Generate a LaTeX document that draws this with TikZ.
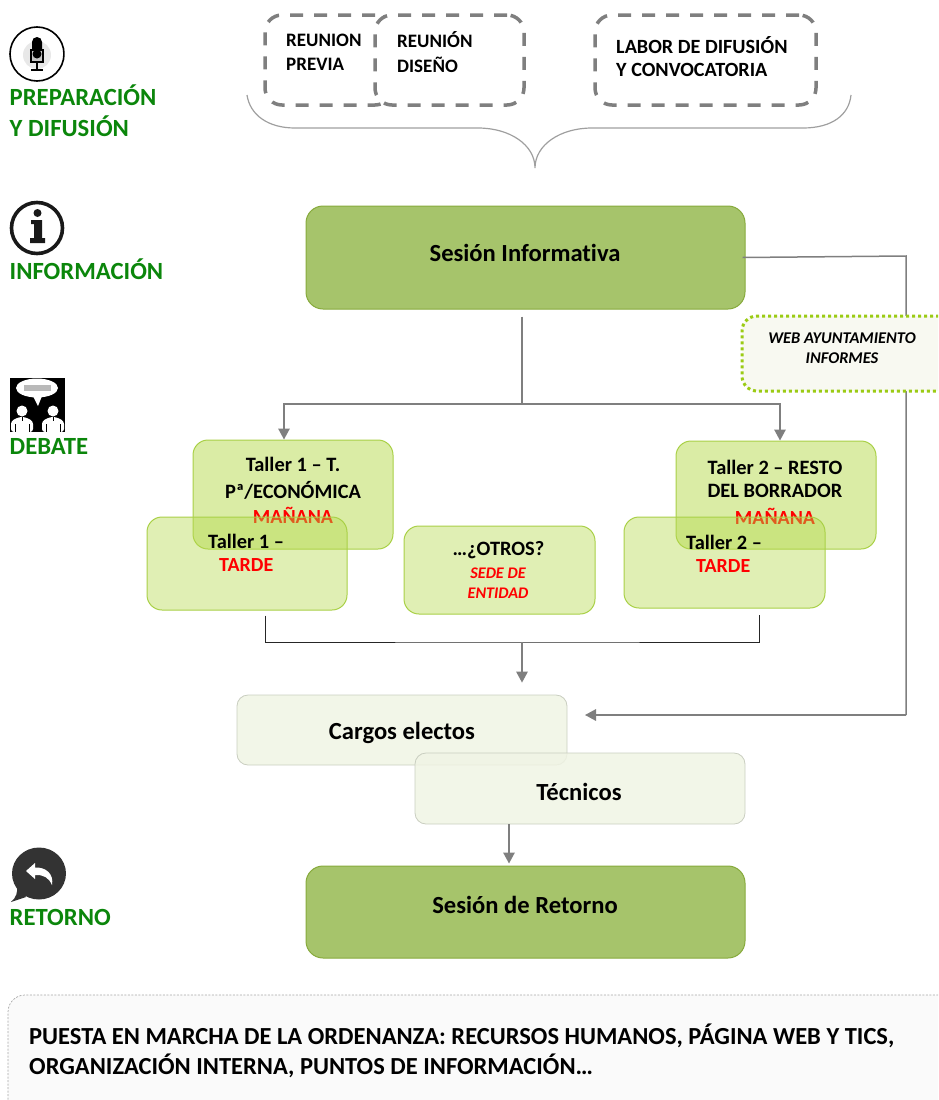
\documentclass[tikz,border=0pt]{standalone}
\usepackage{fontspec}
\setmainfont{Carlito}[Ligatures=NoCommon]
\usetikzlibrary{arrows.meta,calc,positioning}
\definecolor{lblgreen}{HTML}{0B860B}
\definecolor{conn}{HTML}{7F7F7F}
\definecolor{mainfill}{HTML}{A6C46B}
\definecolor{mainedge}{HTML}{87AA3C}
\definecolor{lime}{HTML}{B5D94C}
\definecolor{limeedge}{HTML}{A9D046}
\definecolor{palefill}{HTML}{F0F4E4}
\definecolor{paleedge}{HTML}{C9CEC0}
\definecolor{webdot}{HTML}{9BCB14}
\definecolor{webfill}{HTML}{F8F9F1}
\tikzset{
  x=1pt,y=-1pt,
  stage/.style={font=\bfseries\fontsize{24.7}{28}\selectfont,text=lblgreen,anchor=west,inner sep=0pt},
  txt/.style={font=\bfseries\fontsize{20.4}{24}\selectfont,text=black,inner sep=0pt},
  txtsm/.style={font=\bfseries\fontsize{19}{23}\selectfont,text=black,inner sep=0pt},
  txtlab/.style={font=\bfseries\fontsize{20.2}{24}\selectfont,text=black,inner sep=0pt},
  big/.style={font=\bfseries\fontsize{24.6}{28}\selectfont,text=black,inner sep=0pt},
  redt/.style={font=\bfseries\fontsize{20}{24}\selectfont,text=red,inner sep=0pt},
  redi/.style={font=\bfseries\itshape\fontsize{16.2}{19}\selectfont,text=red,inner sep=0pt},
  blki/.style={font=\bfseries\itshape\fontsize{16.4}{19}\selectfont,text=black,inner sep=0pt},
  bottomt/.style={font=\bfseries\fontsize{24.5}{28}\selectfont,text=black,anchor=west,inner sep=0pt},
  dashbox/.style={draw=conn,line width=3.5pt,dash pattern=on 13pt off 11pt,rounded corners=17pt},
  mainbox/.style={draw=mainedge,fill=mainfill,line width=1pt,rounded corners=17pt},
  limebox/.style={draw=limeedge,fill=lime,fill opacity=.5,line width=1pt,rounded corners=15pt},
  palebox/.style={draw=paleedge,fill=palefill,fill opacity=.85,line width=.8pt,rounded corners=11pt},
  webbox/.style={draw=webdot,fill=webfill,line width=3pt,dash pattern=on 3pt off 3pt,rounded corners=15pt},
  wire/.style={draw=conn,line width=1.5pt},
  arrowed/.style={wire,-{Triangle[width=11.5pt,length=11pt]}},
}
\newcommand{\boxat}[6]{\node[#1,minimum width=#4-#2,minimum height=#5-#3,inner sep=0pt] (#6) at ({(#2+#4)/2},{(#3+#5)/2}) {};}
\begin{document}
\begin{tikzpicture}
\useasboundingbox (0,0) rectangle (938,1100);
\clip (0,0) rectangle (938,1100);
% stage icons
\begin{scope}
  \clip (0,20) rectangle (64.5,90);
  \fill[gray!18] (37,55) circle (14);
  \draw[black,line width=1.6pt] (37,54) circle (27);
  \fill[black,rounded corners=5pt] (32,37) rectangle (42,58);
  \draw[black,line width=1.2pt,fill=gray!45] (31,50) rectangle (43,62);
  \fill[black] (37,54) circle (4.5);
  \draw[black,line width=1.3pt] (37,62) -- (37,69) (31,70) -- (43,70);
\end{scope}
\begin{scope}
  \clip (0,195) rectangle (64.5,260);
  \draw[black!90,line width=3.6pt] (37,228) circle (25.5);
  \fill[black!90] (37.5,213) circle (4);
  \fill[black!90] (31,220) -- (42,220) -- (42,238) -- (45,238) -- (45,243) -- (30,243) -- (30,238) -- (34,238) -- (34,224) -- (31,224) -- cycle;
\end{scope}
\fill[black] (10,378) rectangle (65,432);
\fill[white] (37,388) ellipse (21 and 9.5);
\fill[white] (33,396) -- (42,396) -- (38,406) -- cycle;
\fill[gray!55] (24,385) rectangle (51,391);
\foreach \cx in {22,53}{
  \fill[white] (\cx,411) circle (5.5);
  \fill[white,rounded corners=3pt] (\cx-11,432) -- (\cx-11,421) -- (\cx-3,417) -- (\cx+3,417) -- (\cx+11,421) -- (\cx+11,432) -- cycle;
  \draw[black,line width=.7pt] (\cx-7,424) -- (\cx-7,432) (\cx+7,424) -- (\cx+7,432) (\cx,417) -- (\cx,421);
}
\fill[black!80] (39,873.5) ellipse (27 and 26);
\fill[black!80] (22,890) -- (26,897) -- (11,902) .. controls (16,898) and (18,892) .. (17,886) -- cycle;
\fill[white] (26,871) -- (35,863) -- (35,867.5) .. controls (46,867) and (54,874) .. (52,885) .. controls (49,878) and (44,874.5) .. (35,875) -- (35,879) -- cycle;
% stage labels
\node[stage] (l1) at (9.5,95) {PREPARACIÓN};
\node[stage] (l2) at (9.5,126) {Y DIFUSIÓN};
\node[stage] (l3) at (9.5,269) {INFORMACIÓN};
\node[stage] (l4) at (9.5,446) {DEBATE};
\node[stage] (l5) at (9.5,917) {RETORNO};
% preparation
\boxat{dashbox}{265}{15}{392}{105}{prev}
\boxat{dashbox,fill=white}{375}{15}{524}{105}{dis}
\boxat{dashbox}{595}{15}{816}{105}{lab}
\node[txtsm,anchor=west] (t1) at (286,40) {REUNION};
\node[txtsm,anchor=west] (t2) at (286,64.5) {PREVIA};
\node[txtsm,anchor=west] (t3) at (397,40) {REUNIÓN};
\node[txtsm,anchor=west] (t4) at (397,65) {DISEÑO};
\node[txtlab,anchor=west] (t5) at (616,45) {LABOR DE DIFUSIÓN};
\node[txtlab,anchor=west] (t6) at (616,69.5) {Y CONVOCATORIA};
\draw[gray!75,line width=1.2pt] (247,95) .. controls (250,115) and (268,128) .. (295,128)
  -- (478,128) .. controls (510,128) and (535,145) .. (535,168)
  .. controls (535,145) and (560,128) .. (592,128)
  -- (803,128) .. controls (832,128) and (849,115) .. (851,95);
% connectors under the boxes
\coordinate (split) at (522,404);
\coordinate (webcorner) at (906,256);
\coordinate (retin) at (585,715);
\coordinate (webdown) at (906,715);
\coordinate (join) at (522,642);
% main boxes
\boxat{mainbox}{306}{206}{745}{309}{info}
\boxat{mainbox}{306}{866}{745}{958}{ret}
\draw[wire] ([xshift=-3pt]info.east) -- (webcorner) -- (webdown);
\draw[arrowed] (webdown) -- (retin);
\draw[wire,shorten <=7pt] ([xshift=-3.5pt]info.south) -- (split);
\boxat{webbox}{742}{316}{960}{391}{web}
\node[big] (s1) at (525,253) {Sesión Informativa};
\node[big] (s2) at (525,905) {Sesión de Retorno};
\node[blki] (w1) at (842,338) {WEB AYUNTAMIENTO};
\node[blki] (w2) at (842,358) {INFORMES};
% workshops
\boxat{limebox}{193}{440}{393}{549}{tam}
\boxat{limebox}{676}{441}{876}{549}{tbm}
\node[txt] (a1) at (293,464) {Taller 1 – T.};
\node[txt] (a2) at (293,490) {Pª/ECONÓMICA};
\node[redt] (a3) at (293,515) {MAÑANA};
\node[txt] (b1) at (775,467) {Taller 2 – RESTO};
\node[txt] (b2) at (775,491) {DEL BORRADOR};
\node[redt] (b3) at (775,516) {MAÑANA};
\boxat{limebox,fill opacity=.42}{147}{517}{347}{610}{tat}
\boxat{limebox,fill opacity=.42}{624}{517}{825}{608}{tbt}
\boxat{limebox,fill opacity=.42}{404}{526}{595}{614}{otr}
\node[txt,anchor=west] (a4) at (208,541) {Taller 1 –};
\node[redt,anchor=west] (a5) at (219,565) {TARDE};
\node[txt,anchor=west] (b4) at (686,542) {Taller 2 –};
\node[redt,anchor=west] (b5) at (696,566) {TARDE};
\node[txt] (o1) at (498.5,550) {…¿OTROS?};
\node[redi] (o2) at (498,573) {SEDE DE};
\node[redi] (o3) at (498,593) {ENTIDAD};
% connectors around workshops
\draw[arrowed] (split) -| ([xshift=-9pt]tam.north);
\draw[arrowed] (split) -| ([xshift=4pt]tbm.north);
\draw[black!85,line width=1pt,shorten <=5pt] ([xshift=18pt]tat.south) |- (join) -| ([xshift=34.5pt,yshift=-6pt]tbt.south);
% decisions
\boxat{palebox}{237}{695}{567}{765}{car}
\boxat{palebox}{415}{753}{745}{824}{tec}
\draw[arrowed] (join) -- ([xshift=120pt,yshift=12pt]car.north);
\draw[arrowed] ([xshift=-71pt]tec.south) -- ([xshift=-16.5pt,yshift=2pt]ret.north);
\node[big] (c1) at (402,733) {Cargos electos};
\node[big] (c2) at (579,792) {Técnicos};
% bottom
\draw[gray!70,fill=gray!4,line width=.7pt,dash pattern=on 2pt off 1.5pt,rounded corners=17pt] (8,1120) rectangle (960,995);
\node[bottomt] (p1) at (29,1036) {PUESTA EN MARCHA DE LA ORDENANZA: RECURSOS HUMANOS, PÁGINA WEB Y TICS,};
\node[bottomt] (p2) at (29,1066) {ORGANIZACIÓN INTERNA, PUNTOS DE INFORMACIÓN…};
\end{tikzpicture}
\end{document}
